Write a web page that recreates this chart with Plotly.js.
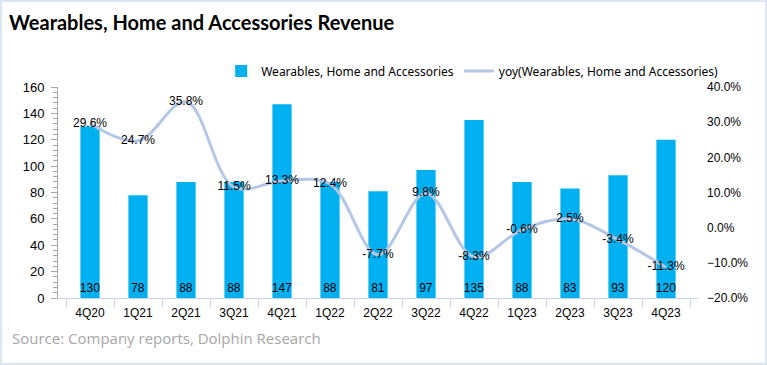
<!DOCTYPE html>
<html>
<head>
<meta charset="utf-8">
<script src="https://cdn.plot.ly/plotly-3.0.1.min.js"></script>
<style>
html,body{margin:0;padding:0;background:#fff;}
#wrap{position:relative;width:767px;height:365px;}
#chart{width:767px;height:365px;}
#frame{position:absolute;left:0;top:0;width:767px;height:365px;box-sizing:border-box;border:2px solid #dce6f2;pointer-events:none;}
</style>
</head>
<body>
<div id="wrap"><div id="chart"></div><div id="frame"></div></div>
<script>
const categories = ["4Q20","1Q21","2Q21","3Q21","4Q21","1Q22","2Q22","3Q22","4Q22","1Q23","2Q23","3Q23","4Q23"];
const revenue = [130, 78, 88, 88, 147, 88, 81, 97, 135, 88, 83, 93, 120];
const yoy = [29.6, 24.7, 35.8, 11.5, 13.3, 12.4, -7.7, 9.8, -8.3, -0.6, 2.5, -3.4, -11.3];
const revenueName = "Wearables, Home and Accessories";
const yoyName = "yoy(Wearables, Home and Accessories)";

const barTrace = {
  type: "bar",
  x: categories,
  y: revenue,
  name: revenueName,
  marker: {color: "#00b0f0"},
  text: revenue.map(String),
  textposition: "inside",
  insidetextanchor: "start",
  constraintext: "none",
  textangle: 0,
  insidetextfont: {family: "Liberation Sans, Arial, sans-serif", size: 12, color: "#000"},
  hoverinfo: "x+y"
};
const lineTrace = {
  type: "scatter",
  mode: "lines+text",
  x: categories,
  y: yoy,
  yaxis: "y2",
  name: yoyName,
  line: {color: "#b4c7e7", width: 3, shape: "spline", smoothing: 1},
  text: yoy.map(v => v.toFixed(1) + "%"),
  textposition: "middle center",
  textfont: {family: "Liberation Sans, Arial, sans-serif", size: 12, color: "#000"},
  cliponaxis: false
};

const layout = {
  width: 767, height: 365,
  margin: {l: 58, r: 69, t: 87, b: 67},
  paper_bgcolor: "#fff", plot_bgcolor: "#fff",
  font: {family: "Liberation Sans, Arial, sans-serif", size: 12, color: "#000"},
  bargap: 0.6,
  showlegend: true,
  legend: {orientation: "h", x: 0.255, xanchor: "left", y: 1.076, yanchor: "middle",
           font: {family: "Noto Sans, sans-serif", size: 12, color: "#000"},
           bgcolor: "rgba(0,0,0,0)", traceorder: "normal", itemwidth: 30},
  xaxis: {
    type: "category",
    showline: true, linecolor: "#c9d5e6", linewidth: 1,
    ticks: "outside", tickson: "boundaries", ticklen: 8, tickcolor: "#c9d5e6",
    tickfont: {size: 12, color: "#000"}, ticklabelstandoff: 4,
    showgrid: false, zeroline: false, fixedrange: true
  },
  yaxis: {
    range: [0, 160], dtick: 20, tick0: 0,
    showline: true, linecolor: "#a6a6a6", linewidth: 1,
    ticks: "outside", ticklen: 6, tickcolor: "#a6a6a6",
    minor: {dtick: 4, ticks: "outside", ticklen: 4, tickcolor: "#a6a6a6", showgrid: false},
    tickfont: {size: 13, color: "#000"},
    showgrid: false, zeroline: false, ticklabelstandoff: 4
  },
  yaxis2: {
    overlaying: "y", side: "right",
    range: [-20, 40], dtick: 10, tick0: 0,
    tickformat: ".1f", ticksuffix: "%",
    showline: false, ticks: "", showgrid: false, zeroline: false,
    tickfont: {size: 12, color: "#000"}, ticklabelstandoff: 8
  },
  annotations: [
    {text: "<b>Wearables, Home and Accessories Revenue</b>", xref: "paper", yref: "paper",
     x: -0.08, xanchor: "left", y: 1.31, yanchor: "middle", showarrow: false,
     font: {family: "Lato, sans-serif", size: 20, color: "#000"}},
    {text: "Source: Company reports, Dolphin Research", xref: "paper", yref: "paper",
     x: -0.075, xanchor: "left", y: -0.19, yanchor: "middle", showarrow: false,
     font: {family: "Open Sans, sans-serif", size: 15, color: "#a6a6a6"}}
  ]
};

Plotly.newPlot("chart", [barTrace, lineTrace], layout, {displayModeBar: false, staticPlot: true});
</script>
</body>
</html>
